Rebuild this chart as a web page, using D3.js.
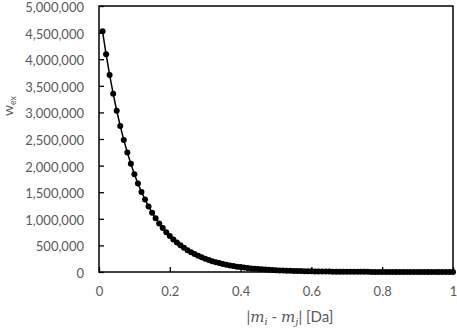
<!DOCTYPE html>
<html><head><meta charset="utf-8">
<script src="https://cdn.jsdelivr.net/npm/d3@7"></script>
<style>
html,body{margin:0;padding:0;background:#fff;}
svg{display:block;}
.tick text{font-family:Lato,"Open Sans",sans-serif;font-size:13px;fill:#595959;}
</style></head>
<body><svg id="c" width="457" height="330"></svg>
<script>
const xValues = [0.01,0.02,0.03,0.04,0.05,0.06,0.07,0.08,0.09,0.10,
0.11,0.12,0.13,0.14,0.15,0.16,0.17,0.18,0.19,0.20,
0.21,0.22,0.23,0.24,0.25,0.26,0.27,0.28,0.29,0.30,
0.31,0.32,0.33,0.34,0.35,0.36,0.37,0.38,0.39,0.40,
0.41,0.42,0.43,0.44,0.45,0.46,0.47,0.48,0.49,0.50,
0.51,0.52,0.53,0.54,0.55,0.56,0.57,0.58,0.59,0.60,
0.61,0.62,0.63,0.64,0.65,0.66,0.67,0.68,0.69,0.70,
0.71,0.72,0.73,0.74,0.75,0.76,0.77,0.78,0.79,0.80,
0.81,0.82,0.83,0.84,0.85,0.86,0.87,0.88,0.89,0.90,
0.91,0.92,0.93,0.94,0.95,0.96,0.97,0.98,0.99,1.00];
const wexValues = [4524000,4094000,3704000,3352000,3033000,2744000,2483000,2247000,2033000,1839000,
1664000,1506000,1363000,1233000,1116000,1009000,913000,826000,748000,677000,
612000,554000,501000,454000,410000,371000,336000,304000,275000,249000,
225000,204000,184000,167000,151000,137000,124000,112000,101000,92000,
83000,75000,68000,61000,56000,50000,45000,41000,37000,34000,
30000,28000,25000,23000,20000,18000,17000,15000,14000,12000,
11000,10000,9000,8000,7500,6800,6200,5600,5000,4600,
4100,3700,3400,3100,2800,2500,2300,2000,1900,1700,
1500,1400,1200,1100,1000,900,800,750,700,600,
560,500,460,410,370,340,310,280,250,230];
const xTicks = [0,0.2,0.4,0.6,0.8,1];
const yTicks = [0,500000,1000000,1500000,2000000,2500000,3000000,3500000,4000000,4500000,5000000];

const svg = d3.select("#c");
const L=99, R=453, T=6, B=272;
const x = d3.scaleLinear().domain([0,1]).range([L,R]);
const y = d3.scaleLinear().domain([0,5000000]).range([B,T]);
const fmtY = d3.format(",");
const fmtX = v => v===0||v===1 ? String(v) : d3.format(".1f")(v);

// x axis
const gx = svg.append("g").attr("transform",`translate(0,${B})`)
  .call(d3.axisBottom(x).tickValues(xTicks).tickFormat(fmtX).tickSizeInner(-5).tickSizeOuter(0).tickPadding(15));
gx.select(".domain").remove();
gx.selectAll(".tick line").attr("stroke","#000").attr("stroke-width",1.3);
// y axis
const gy = svg.append("g").attr("transform",`translate(${L},0)`)
  .call(d3.axisLeft(y).tickValues(yTicks).tickFormat(fmtY).tickSizeInner(-5).tickSizeOuter(0).tickPadding(15));
gy.select(".domain").remove();
gy.selectAll(".tick line").attr("stroke","#000").attr("stroke-width",1.3);
gy.selectAll(".tick text").attr("dy","0.42em");

// frame
svg.append("rect").attr("x",L).attr("y",T).attr("width",R-L).attr("height",B-T)
  .attr("fill","none").attr("stroke","#000").attr("stroke-width",1.5);

const data = xValues.map((v,i)=>({x:v,y:wexValues[i]}));
svg.append("path").datum(data)
  .attr("fill","none").attr("stroke","#000").attr("stroke-width",1.5)
  .attr("d", d3.line().x(d=>x(d.x)).y(d=>y(d.y)));
svg.append("g").selectAll("circle").data(data).join("circle")
  .attr("cx",d=>x(d.x)).attr("cy",d=>y(d.y)).attr("r",3).attr("fill","#000");

// y label
const yl = svg.append("text").attr("transform","translate(13,106) rotate(-90)")
  .attr("text-anchor","middle").attr("fill","#595959")
  .style("font-family","Lato,'Open Sans',sans-serif").style("font-size","14px");
yl.append("tspan").text("w");
yl.append("tspan").attr("dy",3).style("font-size","9px").text("ex");

// x label
const xl = svg.append("text").attr("x",290).attr("y",322).attr("text-anchor","middle")
  .attr("fill","#595959").style("font-size","15px");
xl.append("tspan").style("font-family","Lato,sans-serif").text("|");
xl.append("tspan").style("font-family","'DejaVu Serif',serif").style("font-style","italic").text("m");
xl.append("tspan").attr("dy",3).style("font-family","'DejaVu Serif',serif").style("font-style","italic").style("font-size","10px").text("i");
xl.append("tspan").attr("dy",-3).style("font-family","Lato,sans-serif").text(" - ");
xl.append("tspan").style("font-family","'DejaVu Serif',serif").style("font-style","italic").text("m");
xl.append("tspan").attr("dy",3).style("font-family","'DejaVu Serif',serif").style("font-style","italic").style("font-size","10px").text("j");
xl.append("tspan").attr("dy",-3).style("font-family","Lato,sans-serif").text("| [Da]");
</script></body></html>
